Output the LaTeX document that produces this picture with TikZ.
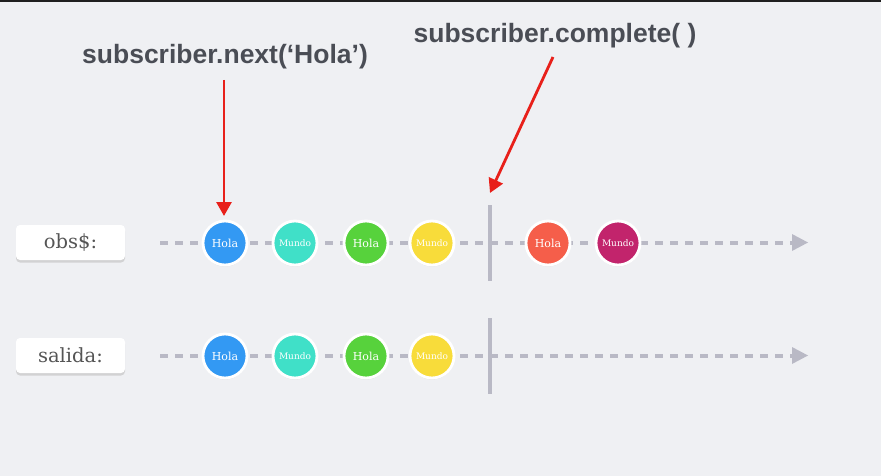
\documentclass[tikz,border=0pt]{standalone}
\usepackage{fontspec}
\setmainfont{DejaVu Serif}
\newfontfamily\headfont{Liberation Sans}
\usetikzlibrary{arrows.meta,shadows}
\definecolor{bg}{HTML}{EFF0F3}
\definecolor{dashgray}{HTML}{B9B9C5}
\definecolor{titlegray}{HTML}{4A4D55}
\definecolor{labelgray}{HTML}{555555}
\definecolor{cblue}{HTML}{3399F3}
\definecolor{cteal}{HTML}{40E0C8}
\definecolor{cgreen}{HTML}{57D23C}
\definecolor{cyellow}{HTML}{F8DC3A}
\definecolor{corange}{HTML}{F55E4A}
\definecolor{cmagenta}{HTML}{C2246C}
\definecolor{redarrow}{HTML}{E8201A}
\tikzset{
  x=1pt,y=-1pt,
  labelbox/.style={draw=none,fill=white,rounded corners=4pt,minimum width=109pt,minimum height=35pt,
    font=\fontsize{19.5}{21}\selectfont,text=labelgray,
    drop shadow={shadow xshift=0pt,shadow yshift=-2.5pt,fill=black!25,opacity=0.6}},
  marble/.style={circle,draw=white,line width=2.8pt,minimum size=44pt,inner sep=0pt,text=white,
    drop shadow={shadow xshift=0pt,shadow yshift=-1.5pt,fill=black!30,opacity=0.4}},
  holam/.style={marble,font=\fontsize{11}{12}\selectfont},
  mundom/.style={marble,font=\fontsize{9}{10}\selectfont},
  timeline/.style={dashgray,line width=4pt,dash pattern=on 8pt off 7pt},
  endbar/.style={dashgray,line width=3.5pt},
  callout/.style={redarrow,line width=2.8pt,-{Triangle[length=14pt,width=15pt]}},
  title/.style={font=\headfont\bfseries\fontsize{26.5}{28}\selectfont,text=titlegray},
}
\begin{document}
\begin{tikzpicture}
\fill[bg] (0,0) rectangle (881,476);
\useasboundingbox (0,0) rectangle (881,476);
\fill[black!88] (0,0) rectangle (881,2);

% labels
\node[labelbox] (obs) at (70.5,242.5) {obs\$:};
\node[labelbox] (sal) at (70.5,355.5) {salida:};

% timelines
\coordinate (s1) at (160,242.5);
\coordinate (e1) at (792,242.5);
\coordinate (s2) at (160,355.5);
\coordinate (e2) at (792,355.5);
\draw[timeline] (s1) -- (e1);
\draw[timeline] (s2) -- (e2);
\fill[dashgray] (792,234) -- (808,242.5) -- (792,251) -- cycle;
\fill[dashgray] (792,347) -- (808,355.5) -- (792,364) -- cycle;

% completion bars
\coordinate (b1a) at (490,205);
\coordinate (b1b) at (490,281);
\coordinate (b2a) at (490,318);
\coordinate (b2b) at (490,394);
\draw[endbar] (b1a) -- (b1b);
\draw[endbar] (b2a) -- (b2b);

% marbles row 1
\node[holam,fill=cblue] (a1) at (225,243) {Hola};
\node[mundom,fill=cteal] (a2) at (295,243) {Mundo};
\node[holam,fill=cgreen] (a3) at (366,243) {Hola};
\node[mundom,fill=cyellow] (a4) at (432,243) {Mundo};
\node[holam,fill=corange] (a5) at (548,243) {Hola};
\node[mundom,fill=cmagenta] (a6) at (618,243) {Mundo};

% marbles row 2
\node[holam,fill=cblue] (c1) at (225,356) {Hola};
\node[mundom,fill=cteal] (c2) at (295,356) {Mundo};
\node[holam,fill=cgreen] (c3) at (366,356) {Hola};
\node[mundom,fill=cyellow] (c4) at (432,356) {Mundo};

% titles
\node[title] (n1) at (225,57) {subscriber.next(‘Hola’)};
\node[title] (n2) at (555,36) {subscriber.complete( )};

% callout arrows
\coordinate (p1s) at (224,80);
\coordinate (p1e) at (224,216);
\coordinate (p2s) at (553,57);
\coordinate (p2e) at (490,193);
\draw[callout] (p1s) -- (p1e);
\draw[callout] (p2s) -- (p2e);
\end{tikzpicture}
\end{document}
